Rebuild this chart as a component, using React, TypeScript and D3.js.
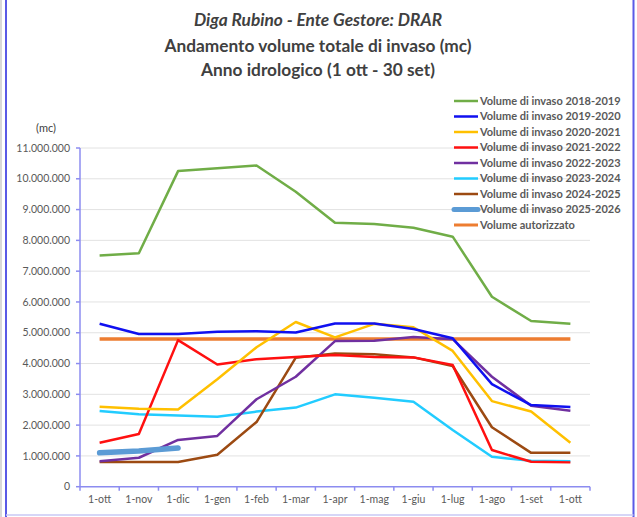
import React from "react";
import * as d3 from "d3";

const months = [
  "1-ott", "1-nov", "1-dic", "1-gen", "1-feb", "1-mar", "1-apr",
  "1-mag", "1-giu", "1-lug", "1-ago", "1-set", "1-ott",
];

// volumes in millions of mc
const vol2018 = [7.51, 7.58, 10.25, 10.34, 10.43, 9.58, 8.57, 8.53, 8.41, 8.12, 6.17, 5.38, 5.29];
const vol2019 = [5.29, 4.96, 4.96, 5.03, 5.05, 5.01, 5.3, 5.3, 5.12, 4.82, 3.33, 2.65, 2.59];
const vol2020 = [2.6, 2.53, 2.51, 3.49, 4.53, 5.35, 4.85, 5.29, 5.18, 4.41, 2.78, 2.44, 1.43];
const vol2021 = [1.43, 1.71, 4.76, 3.97, 4.14, 4.21, 4.28, 4.21, 4.2, 3.95, 1.19, 0.81, 0.79];
const vol2022 = [0.83, 0.94, 1.52, 1.65, 2.84, 3.57, 4.73, 4.74, 4.86, 4.79, 3.57, 2.63, 2.47];
const vol2023 = [2.46, 2.35, 2.31, 2.27, 2.44, 2.57, 3.0, 2.89, 2.76, 1.84, 0.97, 0.84, 0.83];
const vol2024 = [0.8, 0.8, 0.8, 1.04, 2.1, 4.19, 4.33, 4.3, 4.2, 3.92, 1.93, 1.1, 1.1];
const vol2025 = [1.1, 1.16, 1.26];
const volAutorizzato = [4.8, 4.8, 4.8, 4.8, 4.8, 4.8, 4.8, 4.8, 4.8, 4.8, 4.8, 4.8, 4.8];

const seriesNames = [
  "Volume di invaso 2018-2019",
  "Volume di invaso 2019-2020",
  "Volume di invaso 2020-2021",
  "Volume di invaso 2021-2022",
  "Volume di invaso 2022-2023",
  "Volume di invaso 2023-2024",
  "Volume di invaso 2024-2025",
  "Volume di invaso 2025-2026",
  "Volume autorizzato",
];
const seriesValues = [vol2018, vol2019, vol2020, vol2021, vol2022, vol2023, vol2024, vol2025, volAutorizzato];
const seriesColors = ["#70ad47", "#1010f0", "#ffc000", "#ff1010", "#7030a0", "#22ccff", "#9c4a12", "#5b9bd5", "#ed7d31"];
const seriesWidths = [2.5, 2.5, 2.5, 2.5, 2.5, 2.5, 2.5, 5.5, 3.5];

const yTicks = d3.range(0, 12).map((d) => d * 1e6);

const W = 637;
const H = 517;
const font = "Lato, 'Open Sans', sans-serif";

const itLocale = d3.formatLocale({ decimal: ",", thousands: ".", grouping: [3], currency: ["", "€"] });
const fmt = itLocale.format(",.0f");

export default function App() {
  const x = d3.scaleBand<number>().domain(d3.range(months.length)).range([80, 590]);
  const y = d3.scaleLinear().domain([0, 11e6]).range([486.7, 148]);
  const cx = (i: number) => (x(i) as number) + x.bandwidth() / 2;

  const lineGen = d3
    .line<number>()
    .x((_, i) => cx(i))
    .y((v) => y(v * 1e6));

  const boundaries = d3.range(months.length + 1).map((i) => 80 + i * x.bandwidth());

  // draw order: autorizzato under most, 2025 on top
  const drawOrder = [8, 0, 5, 6, 4, 3, 2, 1, 7];

  return (
    <svg width={W} height={H} style={{ position: "absolute", left: 0, top: 0, background: "#fff" }}>
      <rect x={0} y={0} width={W} height={H} fill="#fff" />
      <line x1={1} x2={1} y1={0} y2={H} stroke="#d8d8d8" strokeWidth={2} />
      <line x1={6} x2={6} y1={0} y2={H} stroke="#5a5ae6" strokeWidth={2} />
      <line x1={633.5} x2={633.5} y1={0} y2={H} stroke="#5a5ae6" strokeWidth={2} />
      <line x1={6} x2={633.5} y1={515} y2={515} stroke="#c8c8f4" strokeWidth={1.5} />

      <g fontFamily={font} fill="#404040" textAnchor="middle" fontWeight="bold">
        <text x={318} y={26} fontSize={17.3} fontStyle="italic">Diga Rubino - Ente Gestore: DRAR</text>
        <text x={318} y={52} fontSize={17.3}>Andamento volume totale di invaso (mc)</text>
        <text x={318} y={76} fontSize={17.3}>Anno idrologico (1 ott - 30 set)</text>
      </g>

      <text x={46} y={132} fontFamily={font} fontSize={11} fill="#404040" textAnchor="middle">(mc)</text>

      {yTicks.slice(1).map((t) => (
        <line key={"g" + t} x1={80} x2={590} y1={y(t)} y2={y(t)} stroke="#e2e2e2" strokeWidth={1} />
      ))}

      {yTicks.map((t) => (
        <text key={"yl" + t} x={70} y={y(t)} dy="0.35em" textAnchor="end" fontFamily={font} fontSize={10.5} fill="#595959">
          {fmt(t)}
        </text>
      ))}

      <line x1={80} x2={80} y1={y(11e6)} y2={y(0)} stroke="#8c8cf0" strokeWidth={1.5} />
      {yTicks.map((t) => (
        <line key={"yt" + t} x1={76} x2={80} y1={y(t)} y2={y(t)} stroke="#8c8cf0" strokeWidth={1.5} />
      ))}
      <line x1={80} x2={590} y1={y(0)} y2={y(0)} stroke="#8c8cf0" strokeWidth={1.5} />
      {boundaries.map((b, i) => (
        <line key={"xt" + i} x1={b} x2={b} y1={y(0)} y2={y(0) + 4} stroke="#8c8cf0" strokeWidth={1.5} />
      ))}
      {months.map((m, i) => (
        <text key={"xl" + i} x={cx(i)} y={503} textAnchor="middle" fontFamily={font} fontSize={10.5} fill="#595959">
          {m}
        </text>
      ))}

      {drawOrder.map((k) => (
        <path
          key={"s" + k}
          d={lineGen(seriesValues[k]) || ""}
          fill="none"
          stroke={seriesColors[k]}
          strokeWidth={seriesWidths[k]}
          strokeLinejoin="round"
          strokeLinecap={k === 7 ? "round" : "butt"}
        />
      ))}

      <g fontFamily={font} fontSize={11} fontWeight="bold" fill="#595959">
        {seriesNames.map((n, i) => {
          const ly = 101 + i * 15.5;
          return (
            <g key={"lg" + i}>
              <line x1={454} x2={478} y1={ly} y2={ly} stroke={seriesColors[i]} strokeWidth={i === 7 ? 5 : i === 8 ? 3 : 2.5} strokeLinecap={i === 7 ? "round" : "butt"} />
              <text x={480} y={ly} dy="0.35em">{n}</text>
            </g>
          );
        })}
      </g>
    </svg>
  );
}
